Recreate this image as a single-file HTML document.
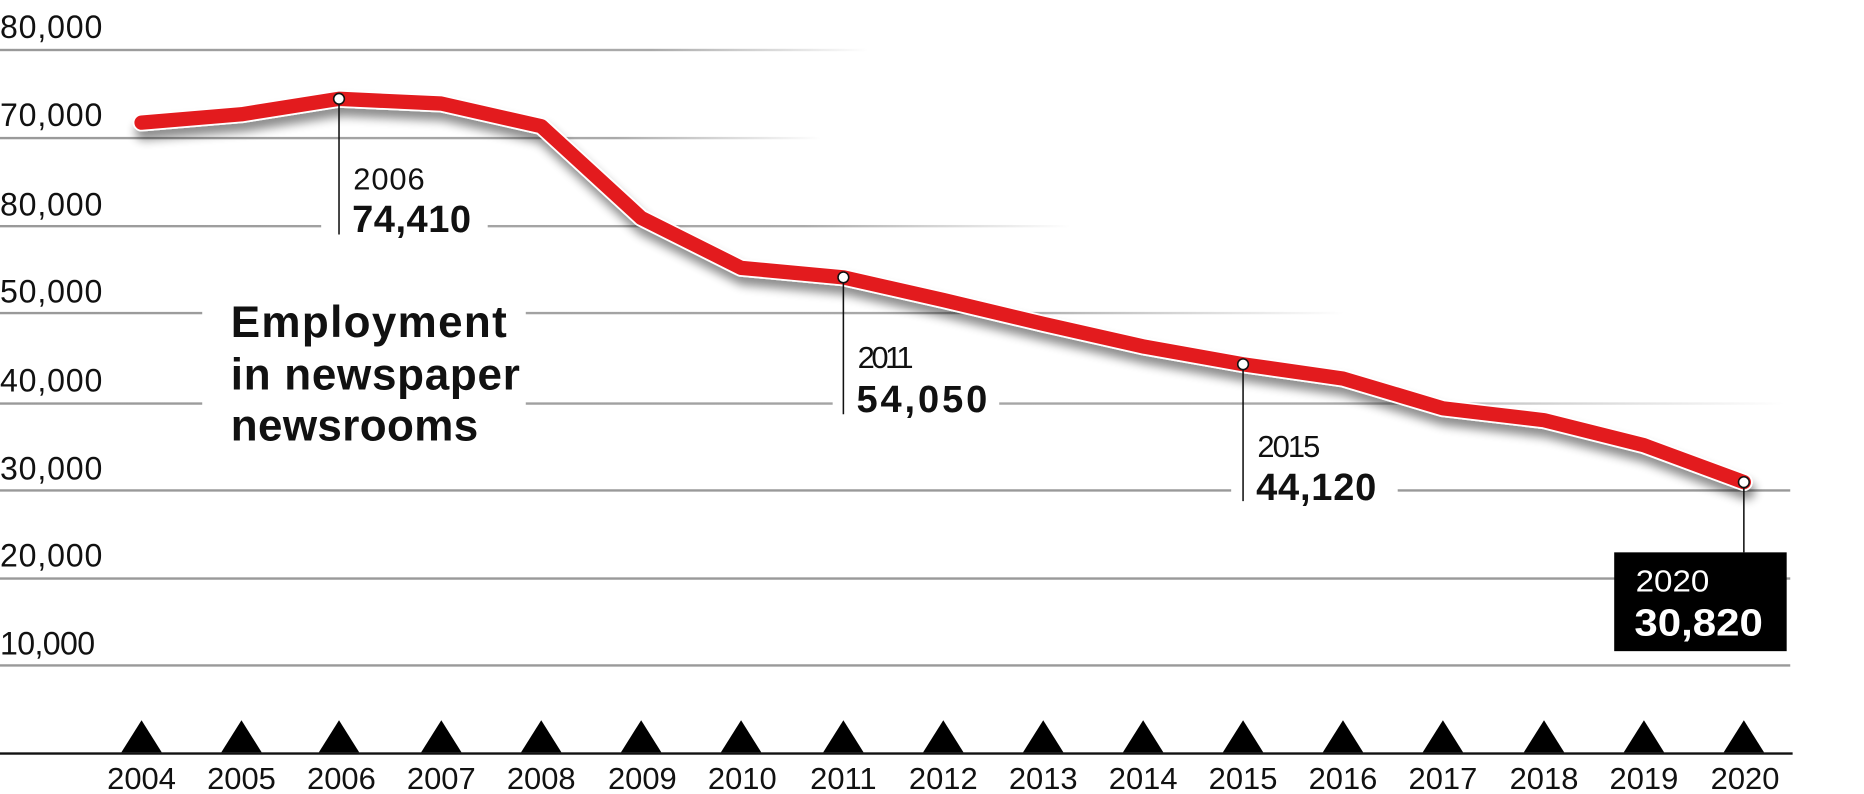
<!DOCTYPE html>
<html><head><style>
html,body{margin:0;padding:0;background:#fff;}
svg{display:block;}
text{font-family:"Liberation Sans Narrow","Liberation Sans",sans-serif;}
</style></head><body>
<svg width="1864" height="794" viewBox="0 0 1567 667" preserveAspectRatio="none" xmlns="http://www.w3.org/2000/svg">
<defs>
<linearGradient id="g1" x1="0" x2="1"><stop offset="0" stop-color="#999"/><stop offset="0.75" stop-color="#aaa"/><stop offset="1" stop-color="#fff"/></linearGradient>
<filter id="sh" x="-5%" y="-20%" width="110%" height="150%"><feGaussianBlur in="SourceAlpha" stdDeviation="4"/><feOffset dx="2" dy="7"/><feComponentTransfer><feFuncA type="linear" slope="0.45"/></feComponentTransfer><feMerge><feMergeNode/><feMergeNode in="SourceGraphic"/></feMerge></filter>
</defs>
<g font-size="27" fill="#111" lengthAdjust="spacingAndGlyphs">
<text x="0" y="32" textLength="86">80,000</text>
<text x="0" y="106" textLength="86">70,000</text>
<text x="0" y="181" textLength="86">80,000</text>
<text x="0" y="254" textLength="86">50,000</text>
<text x="0" y="329" textLength="86">40,000</text>
<text x="0" y="403" textLength="86">30,000</text>
<text x="0" y="476" textLength="86">20,000</text>
<text x="0" y="550" textLength="80">10,000</text>
</g>
<rect x="0" y="41" width="730" height="2" fill="url(#g1)"/>
<rect x="0" y="115" width="690" height="2" fill="url(#g1)"/>
<rect x="0" y="189" width="900" height="2" fill="url(#g1)"/>
<rect x="0" y="262" width="1130" height="2" fill="url(#g1)"/>
<rect x="0" y="338" width="1500" height="2" fill="url(#g1)"/>
<rect x="0" y="411" width="1505" height="2" fill="#999"/>
<rect x="0" y="485" width="1505" height="2" fill="#999"/>
<rect x="0" y="558" width="1505" height="2" fill="#999"/>
<rect x="0" y="632" width="1507" height="2" fill="#111"/>
<rect x="270" y="180" width="140" height="20" fill="#fff"/>
<rect x="170" y="250" width="272" height="125" fill="#fff"/>
<rect x="700" y="325" width="140" height="25" fill="#fff"/>
<rect x="1035" y="400" width="140" height="25" fill="#fff"/>
<g filter="url(#sh)">
<polyline fill="none" stroke="#fff" stroke-width="15" stroke-linejoin="round" stroke-linecap="round" points="119,103 203,96 285,83 371,87 455,106 539,183 623,225 709,233 793,252 877,272 961,291 1045,306 1129,318 1213,343 1298,353 1382,374 1466,405"/>
</g>
<polyline fill="none" stroke="#e31b1e" stroke-width="12" stroke-linejoin="round" stroke-linecap="round" points="119,103 203,96 285,83 371,87 455,106 539,183 623,225 709,233 793,252 877,272 961,291 1045,306 1129,318 1213,343 1298,353 1382,374 1466,405"/>
<g stroke="#111" stroke-width="1.3">
<line x1="285" y1="83" x2="285" y2="197"/>
<line x1="709" y1="233" x2="709" y2="348"/>
<line x1="1045" y1="306" x2="1045" y2="421"/>
<line x1="1466" y1="405" x2="1466" y2="464"/>
</g>
<g fill="#fff" stroke="#111" stroke-width="1.3">
<circle cx="285" cy="83" r="4.5"/><circle cx="709" cy="233" r="4.5"/><circle cx="1045" cy="306" r="4.5"/><circle cx="1466" cy="405" r="4.5"/>
</g>
<g fill="#111" lengthAdjust="spacingAndGlyphs">
<text x="297" y="159" font-size="26" textLength="60">2006</text>
<text x="296" y="195" font-size="32" font-weight="bold" textLength="100">74,410</text>
<text x="721" y="309" font-size="26" textLength="47">2011</text>
<text x="720" y="346" font-size="32" font-weight="bold" textLength="110">54,050</text>
<text x="1057" y="384" font-size="26" textLength="53">2015</text>
<text x="1056" y="420" font-size="32" font-weight="bold" textLength="101">44,120</text>
<text x="194" y="283" font-size="37" font-weight="bold" textLength="232">Employment</text>
<text x="194" y="327" font-size="37" font-weight="bold" textLength="243">in newspaper</text>
<text x="194" y="370" font-size="37" font-weight="bold" textLength="208">newsrooms</text>
</g>
<rect x="1357" y="464" width="145" height="83" fill="#000"/>
<text x="1375" y="497" font-size="26" fill="#fff" textLength="62" lengthAdjust="spacingAndGlyphs">2020</text>
<text x="1374" y="534" font-size="32" font-weight="bold" fill="#fff" textLength="108" lengthAdjust="spacingAndGlyphs">30,820</text>
<g fill="#000">
<polygon points="102,632 136,632 119,605"/><polygon points="186,632 220,632 203,605"/><polygon points="268,632 302,632 285,605"/><polygon points="354,632 388,632 371,605"/><polygon points="438,632 472,632 455,605"/><polygon points="522,632 556,632 539,605"/><polygon points="606,632 640,632 623,605"/><polygon points="692,632 726,632 709,605"/><polygon points="776,632 810,632 793,605"/><polygon points="860,632 894,632 877,605"/><polygon points="944,632 978,632 961,605"/><polygon points="1028,632 1062,632 1045,605"/><polygon points="1112,632 1146,632 1129,605"/><polygon points="1196,632 1230,632 1213,605"/><polygon points="1281,632 1315,632 1298,605"/><polygon points="1365,632 1399,632 1382,605"/><polygon points="1449,632 1483,632 1466,605"/>
</g>
<g font-size="26" fill="#111" text-anchor="middle">
<text x="119" y="663">2004</text><text x="203" y="663">2005</text><text x="287" y="663">2006</text><text x="371" y="663">2007</text><text x="455" y="663">2008</text><text x="540" y="663">2009</text><text x="624" y="663">2010</text><text x="709" y="663">2011</text><text x="793" y="663">2012</text><text x="877" y="663">2013</text><text x="961" y="663">2014</text><text x="1045" y="663">2015</text><text x="1129" y="663">2016</text><text x="1213" y="663">2017</text><text x="1298" y="663">2018</text><text x="1382" y="663">2019</text><text x="1467" y="663">2020</text>
</g>
</svg>
</body></html>
